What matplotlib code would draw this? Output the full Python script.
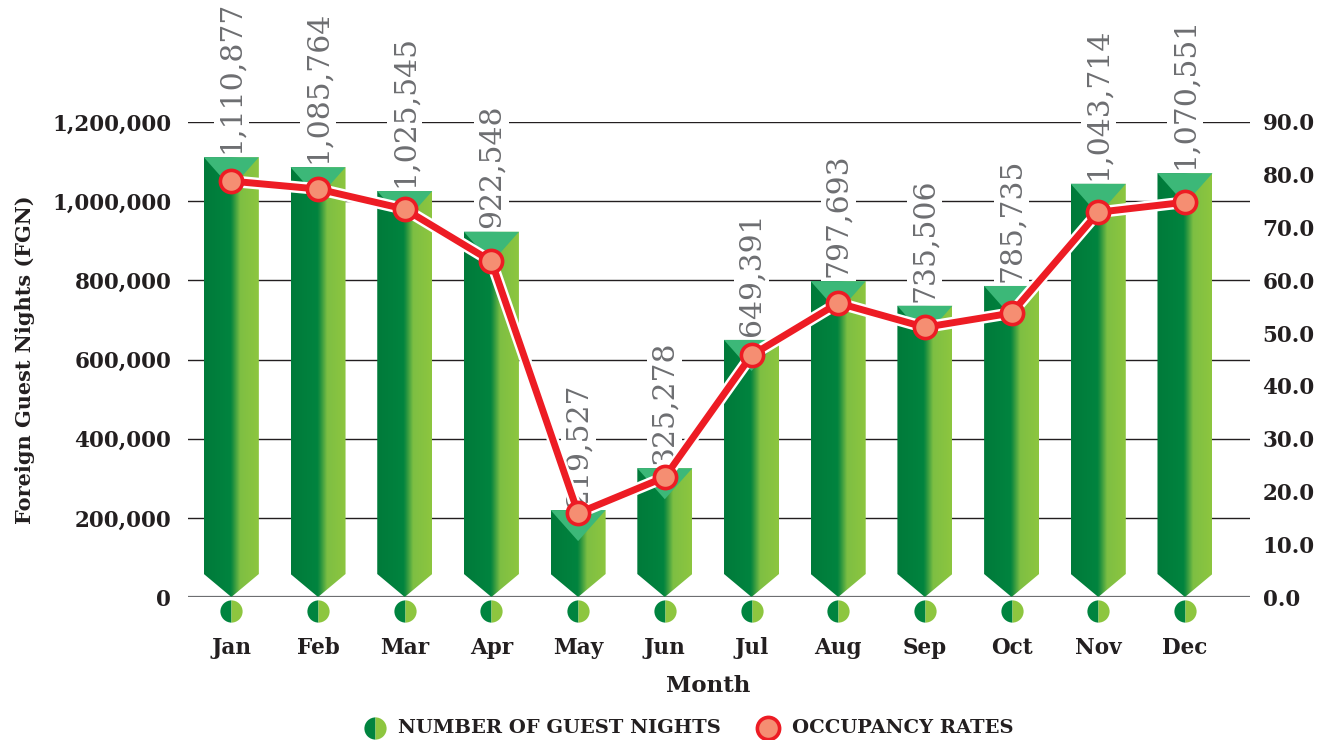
import numpy as np
import matplotlib
matplotlib.use("Agg")
import matplotlib.pyplot as plt
from matplotlib.patches import Polygon
from matplotlib.colors import LinearSegmentedColormap
from matplotlib.lines import Line2D
from matplotlib.transforms import ScaledTranslation

# ---------------- data ----------------
months = ["Jan", "Feb", "Mar", "Apr", "May", "Jun", "Jul", "Aug", "Sep", "Oct", "Nov", "Dec"]
guest_nights = [1110877, 1085764, 1025545, 922548, 219527, 325278,
                649391, 797693, 735506, 785735, 1043714, 1070551]
occupancy = [78.8, 77.3, 73.5, 63.6, 15.9, 22.7, 45.8, 55.7, 51.1, 53.8, 72.9, 74.8]
left_ticks = [0, 200000, 400000, 600000, 800000, 1000000, 1200000]
right_ticks = [0, 10, 20, 30, 40, 50, 60, 70, 80, 90]

# ---------------- style ----------------
DARK_TXT = "#231f20"
GRAY_TXT = "#6d6e71"
DARK_G = "#00843f"
LIGHT_G = "#8dc63f"
TEAL = "#3cb878"
RED = "#ed1c24"
SALMON = "#f58e72"
FONT = "DejaVu Serif"

W, H, DPI = 1323, 740, 100
fig = plt.figure(figsize=(W / DPI, H / DPI), dpi=DPI)
ax_l, ax_r, ax_b, ax_t = 188, 1250, 597, 122
ax = fig.add_axes([ax_l / W, 1 - ax_b / H, (ax_r - ax_l) / W, (ax_b - ax_t) / H])

ymax = 1200000
ax.set_ylim(0, ymax)
ax.set_xlim(-0.5, 11.75)
px_per_y = (ax_b - ax_t) / ymax      # pixels per data unit
px_per_x = 86.7

for s in ax.spines.values():
    s.set_visible(False)
ax.set_yticks(left_ticks)
ax.set_yticklabels([f"{v:,}" for v in left_ticks], fontsize=15.5, fontweight="bold",
                   color=DARK_TXT, family=FONT)
ax.tick_params(axis="y", length=0, pad=12)
ax.set_axisbelow(True)
ax.yaxis.grid(True, color=DARK_TXT, lw=1.0)
for gl in ax.get_ygridlines()[:1]:
    gl.set_color("#6d6e71")
    gl.set_linewidth(1.6)

ax.set_xticks(range(len(months)))
ax.set_xticklabels(months, fontsize=15.5, fontweight="bold", color=DARK_TXT, family=FONT)
ax.tick_params(axis="x", length=0, pad=29)

# ---------------- bars ----------------
cmap = LinearSegmentedColormap.from_list(
    "bar", [(0.0, "#007a3a"), (0.48, DARK_G), (0.52, "#178d3f"), (0.66, "#7ebf43"), (1.0, LIGHT_G)])
grad = np.linspace(0, 1, 256).reshape(1, -1)
hw = 27.5 / px_per_x
cap = 31 / px_per_y
vdep = 23 / px_per_y
for i, v in enumerate(guest_nights):
    poly = Polygon([(i - hw, v), (i + hw, v), (i + hw, vdep), (i, 0), (i - hw, vdep)],
                   closed=True, facecolor="none", edgecolor="none", zorder=2)
    ax.add_patch(poly)
    im = ax.imshow(grad, cmap=cmap, aspect="auto", extent=[i - hw, i + hw, 0, v],
                   zorder=2, interpolation="bilinear")
    im.set_clip_path(poly)
    ax.add_patch(Polygon([(i - hw, v), (i + hw, v), (i, v - cap)], closed=True,
                         facecolor=TEAL, edgecolor="none", zorder=3))
    ax.annotate(f"{v:,}", xy=(i, v), xytext=(0, 3), textcoords="offset points",
                rotation=90, ha="center", va="bottom", fontsize=21.5, color=GRAY_TXT,
                family=FONT, zorder=4, annotation_clip=False,
                bbox=dict(boxstyle="square,pad=0.12", fc="white", ec="none"))
ax.set_xlim(-0.5, 11.75)
ax.set_ylim(0, ymax)

# small circles under the axis
off = ScaledTranslation(0, -14 / DPI, fig.dpi_scale_trans)
ax.plot(range(len(months)), [0] * len(months), ls="none", marker="o", ms=16,
        fillstyle="left", markerfacecolor=DARK_G, markerfacecoloralt=LIGHT_G,
        markeredgewidth=0, transform=ax.transData + off, clip_on=False, zorder=5)

# ---------------- right axis / line ----------------
ax2 = ax.twinx()
ax2.set_ylim(0, 90)
ax2.set_xlim(-0.5, 11.75)
for s in ax2.spines.values():
    s.set_visible(False)
ax2.set_yticks(right_ticks)
ax2.set_yticklabels([f"{v:.1f}" for v in right_ticks], fontsize=15.5, fontweight="bold",
                    color=DARK_TXT, family=FONT)
ax2.tick_params(axis="y", length=0, pad=9)
x = np.arange(len(months))
ax2.plot(x, occupancy, color="white", lw=8.5, solid_capstyle="round", zorder=5, clip_on=False)
ax2.plot(x, occupancy, color=RED, lw=5, zorder=6, clip_on=False)
ax2.plot(x, occupancy, ls="none", marker="o", ms=16, markerfacecolor=SALMON,
         markeredgecolor=RED, markeredgewidth=2.6, zorder=7, clip_on=False)

# ---------------- labels ----------------
fig.text(25 / W, 1 - 360 / H, "Foreign Guest Nights (FGN)", rotation=90, ha="center",
         va="center", fontsize=15, fontweight="bold", color=DARK_TXT, family=FONT)
ax.annotate("Month", xy=(5.5, 0), xycoords=("data", "axes fraction"),
            xytext=(0, -(686 - 597) / DPI * 72), textcoords="offset points",
            ha="center", va="center", fontsize=16.5, fontweight="bold", color=DARK_TXT,
            family=FONT, annotation_clip=False)

# ---------------- legend ----------------
ly = 1 - 728 / H
fig.add_artist(Line2D([375 / W], [ly], transform=fig.transFigure, ls="none", marker="o",
                      ms=16, fillstyle="left", markerfacecolor=DARK_G,
                      markerfacecoloralt=LIGHT_G, markeredgewidth=0))
fig.text(398 / W, ly, "NUMBER OF GUEST NIGHTS", ha="left", va="center", fontsize=14,
         fontweight="bold", color=DARK_TXT, family=FONT)
fig.add_artist(Line2D([768 / W], [ly], transform=fig.transFigure, ls="none", marker="o",
                      ms=16, markerfacecolor=SALMON, markeredgecolor=RED,
                      markeredgewidth=2.6))
fig.text(792 / W, ly, "OCCUPANCY RATES", ha="left", va="center", fontsize=14,
         fontweight="bold", color=DARK_TXT, family=FONT)

fig.savefig("out.png", dpi=DPI)
